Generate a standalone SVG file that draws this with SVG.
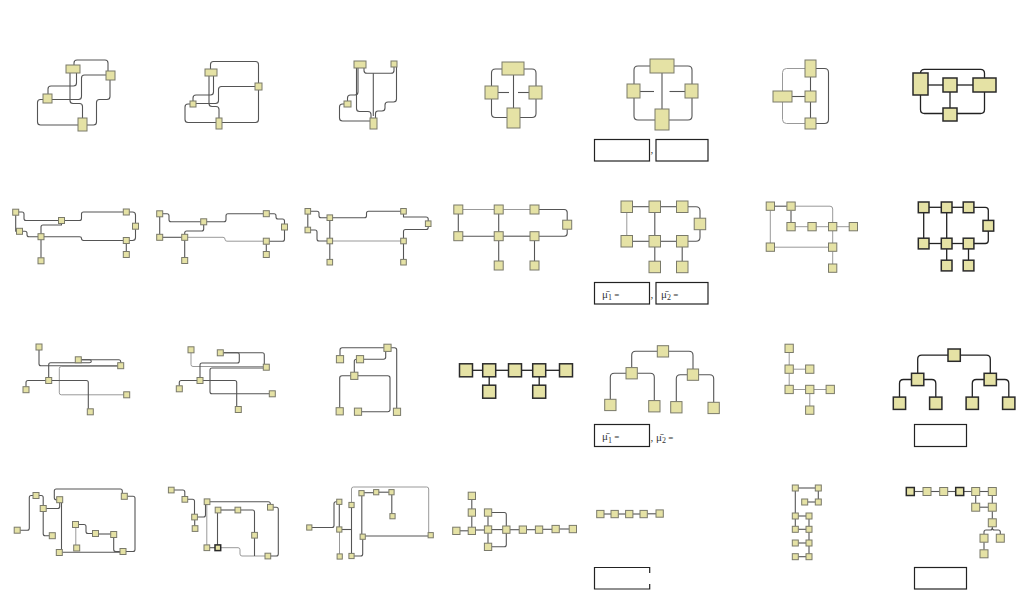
<svg xmlns="http://www.w3.org/2000/svg" width="1018" height="592" viewBox="0 0 1018 592">
<style>
.n{fill:#e5e2a5;stroke:#7a7a6a;stroke-width:1}
.nd{fill:#e5e2a5;stroke:#2a2a2a;stroke-width:1.5}
.e{fill:none;stroke:#555;stroke-width:1.1;stroke-linejoin:round}
.el{fill:none;stroke:#999;stroke-width:1;stroke-linejoin:round}
.ed{fill:none;stroke:#222;stroke-width:1.3;stroke-linejoin:round}
.box{fill:#fff;stroke:#222;stroke-width:1.2}
.lbl{font-family:"Liberation Serif",serif;font-size:11px;fill:#333}
</style>
<rect width="1018" height="592" fill="#fff"/>
<g id="connectors">
<path class="e" d="M74,65 V63 Q74,60 77,60 H105 Q108,60 108,63 V71"/>
<path class="e" d="M110,80 V96.5 Q110,99.5 107,99.5 H99.5 Q96.5,99.5 96.5,102.5 V122 Q96.5,125 93.5,125 H87"/>
<path class="e" d="M76.5,73 V83 Q76.5,86 73.5,86 H51 Q48,86 48,89 V94"/>
<path class="e" d="M70,73 V100.5 Q70,103.5 73,103.5 H79.5 Q82.5,103.5 82.5,106.5 V118"/>
<path class="e" d="M52,99.5 H78.5 Q81.5,99.5 81.5,96.5 V78 Q81.5,75 84.5,75 H106"/>
<path class="e" d="M43,99.5 H40.5 Q37.5,99.5 37.5,102.5 V122 Q37.5,125 40.5,125 H78"/>
<path class="e" d="M210.5,69 V64.5 Q210.5,61.5 213.5,61.5 H255.5 Q258.5,61.5 258.5,64.5 V83"/>
<path class="e" d="M258.5,90 V119.5 Q258.5,122.5 255.5,122.5 H222"/>
<path class="e" d="M213.5,76 V92 Q213.5,95 210.5,95 H196 Q193,95 193,98 V101"/>
<path class="e" d="M209,76 V103.5 Q209,106.5 212,106.5 H216 Q219,106.5 219,109.5 V118"/>
<path class="e" d="M196,103.5 H215.5 Q218.5,103.5 218.5,100.5 V89.5 Q218.5,86.5 221.5,86.5 H255"/>
<path class="e" d="M190,104 H188 Q185,104 185,107 V119.5 Q185,122.5 188,122.5 H216"/>
<path class="e" d="M364,68 V70.5 Q364,73.3 367,73.3 H391 Q394,73.3 394,70.5 V67"/>
<path class="e" d="M373.3,73.3 V116"/>
<path class="e" d="M396.5,67 V99 Q396.5,102 393.5,102 H388 Q385,102 385,105 V108 Q385,111 382,111 H378 Q375.5,111 375.5,113.5 V118"/>
<path class="e" d="M358,68 V92 Q358,95 355,95 H350.5 Q347.5,95 347.5,98 V101"/>
<path class="e" d="M356.5,68 V108.5 Q356.5,111.5 359.5,111.5 H368 Q371,111.5 371,114.5 V118"/>
<path class="e" d="M344,104 H342.5 Q339.5,104 339.5,107 V118 Q339.5,121 342.5,121 H370"/>
<path class="e" d="M502,69 H495.5 Q491.5,69 491.5,73 V86"/>
<path class="e" d="M524,69 H532 Q536,69 536,73 V86"/>
<path class="e" d="M491.5,99 V113.5 Q491.5,117.5 495.5,117.5 H507"/>
<path class="e" d="M536,99 V113.5 Q536,117.5 532,117.5 H520"/>
<path class="e" d="M513.5,75 V108"/>
<path class="e" d="M498,92.5 H509"/>
<path class="e" d="M518,92.5 H529"/>
<path class="e" d="M650,66 H638 Q634,66 634,70 V84"/>
<path class="e" d="M674,66 H688 Q692,66 692,70 V84"/>
<path class="e" d="M634,98 V116 Q634,120 638,120 H655"/>
<path class="e" d="M692,98 V116 Q692,120 688,120 H669"/>
<path class="e" d="M662,73 V109"/>
<path class="e" d="M640,91.5 H654"/>
<path class="e" d="M669.5,91.5 H685"/>
<path class="e" d="M810.5,77 V91"/>
<path class="e" d="M810.5,102 V118"/>
<path class="e" d="M792,96.5 H805"/>
<path class="el" d="M805,68.5 H786.5 Q782.5,68.5 782.5,72.5 V119.5 Q782.5,123.5 786.5,123.5 H805"/>
<path class="e" d="M816,68.5 H824.5 Q828.5,68.5 828.5,72.5 V119.5 Q828.5,123.5 824.5,123.5 H816"/>
<path class="ed" d="M928,85 H943"/>
<path class="ed" d="M957,85 H973"/>
<path class="ed" d="M950,92 V108"/>
<path class="ed" d="M920.5,73.3 Q920.5,69.3 924.5,69.3 H980.5 Q984.5,69.3 984.5,73.3 V78"/>
<path class="ed" d="M920.5,95 V109.5 Q920.5,113.5 924.5,113.5 H943"/>
<path class="ed" d="M984.5,92 V109.5 Q984.5,113.5 980.5,113.5 H957"/>
<path class="e" d="M18.7,212 H22 Q24,212 24,214 V218.5 Q24,220.5 26,220.5 H58.5"/>
<path class="e" d="M64.5,220.5 H79.5 Q81.5,220.5 81.5,218.5 V214 Q81.5,212 83.5,212 H123.3"/>
<path class="e" d="M15.7,215.2 V231.3 H16.5"/>
<path class="e" d="M22.5,231.3 H25 Q27,231.3 27,233.3 V234.7 Q27,236.7 29,236.7 H38"/>
<path class="e" d="M61.5,223.5 V225 H43 Q41,225 41,227 V233.7"/>
<path class="e" d="M44,236.7 H79.5 Q81.5,236.7 81.5,238.6 Q81.5,240.5 83.5,240.5 H123.3"/>
<path class="e" d="M41,239.7 V257.8"/>
<path class="e" d="M129.3,212 H132.5 Q135.5,212 135.5,215 V223.2"/>
<path class="e" d="M135.5,229.2 V237.5 Q135.5,240.5 132.5,240.5 H129.3"/>
<path class="e" d="M126.3,243.5 V251.5"/>
<path class="e" d="M162.7,213.8 H167 Q169,213.8 169,215.8 V219.8 Q169,221.8 171,221.8 H200.7"/>
<path class="e" d="M206.7,221.8 H224 Q226,221.8 226,219.8 V215.7 Q226,213.7 228,213.7 H263.3"/>
<path class="e" d="M159.7,216.8 V234.3"/>
<path class="e" d="M162.7,237.3 H181.7"/>
<path class="e" d="M203.7,224.8 V229 Q203.7,231 201.7,231 H186.7 Q184.7,231 184.7,233 V234.3"/>
<path class="el" d="M187.7,237.3 H223 Q225,237.3 225,239.2 Q225,241.2 227,241.2 H263.3"/>
<path class="e" d="M184.7,240.3 V257.5"/>
<path class="e" d="M269.3,213.7 H274 Q276,213.7 276,215.7 V217 Q276,219 278,219 H282.5 Q284.5,219 284.5,221 V224"/>
<path class="e" d="M284.5,230 V239.2 Q284.5,241.2 282.5,241.2 H269.3"/>
<path class="e" d="M266.3,244.2 V251.5"/>
<path class="e" d="M310.6,211.3 H317 Q319,211.3 319,213.3 V215.7 Q319,217.7 321,217.7 H327"/>
<path class="e" d="M332.6,217.7 H364.5 Q366.5,217.7 366.5,215.7 V213.3 Q366.5,211.3 368.5,211.3 H400.7"/>
<path class="e" d="M307.8,214.1 V227.2"/>
<path class="e" d="M310.6,230 H315 Q317,230 317,232 V239 Q317,241 319,241 H327"/>
<path class="e" d="M329.8,220.5 V238.2"/>
<path class="el" d="M332.6,241 H400.7"/>
<path class="e" d="M329.8,243.8 V259.4"/>
<path class="e" d="M403.5,214.1 V217 H426 Q428.2,217 428.2,219 V220.9"/>
<path class="e" d="M428.2,226.5 V227.5 Q428.2,229.5 426.2,229.5 H405.5 Q403.5,229.5 403.5,231.5 V238.2"/>
<path class="e" d="M403.5,243.8 V259.4"/>
<path class="el" d="M462.8,209.5 H494.2"/>
<path class="el" d="M503.2,209.5 H530"/>
<path class="e" d="M539,209.5 H564.2 Q567.2,209.5 567.2,212.5 V220.2"/>
<path class="e" d="M567.2,229.2 V233.2 Q567.2,236.2 564.2,236.2 H539"/>
<path class="e" d="M458.3,214 V231.7"/>
<path class="e" d="M498.7,214 V231.7"/>
<path class="e" d="M462.8,236.2 H494.2"/>
<path class="e" d="M503.2,236.2 H530"/>
<path class="e" d="M498.7,240.7 V261"/>
<path class="e" d="M534.5,240.7 V261"/>
<path class="e" d="M632.5,206.7 H649"/>
<path class="e" d="M660.5,206.7 H676.5"/>
<path class="e" d="M688,206.7 H696 Q700,206.7 700,210.7 V218.2"/>
<path class="e" d="M700,229.7 V237.3 Q700,241.3 696,241.3 H688"/>
<path class="el" d="M626.8,212.5 V235.5"/>
<path class="e" d="M654.8,212.5 V235.5"/>
<path class="e" d="M632.5,241.3 H649"/>
<path class="e" d="M660.5,241.3 H676.5"/>
<path class="e" d="M654.8,247 V261.2"/>
<path class="e" d="M682.2,247 V261.2"/>
<path class="e" d="M774.5,206.2 H786.8"/>
<path class="el" d="M795.2,206.2 H830 Q832.7,206.2 832.7,209 V222.5"/>
<path class="e" d="M791,210.4 V222.5"/>
<path class="el" d="M795.2,226.7 H807.8"/>
<path class="el" d="M816.2,226.7 H828.5"/>
<path class="el" d="M836.9,226.7 H849.1"/>
<path class="el" d="M770.3,210.4 V243"/>
<path class="el" d="M774.5,247.2 H828.5"/>
<path class="el" d="M832.7,231 V243"/>
<path class="el" d="M832.7,251.4 V264"/>
<path class="ed" d="M929,207.3 H941.3"/>
<path class="ed" d="M952,207.3 H963.2"/>
<path class="ed" d="M973.9,207.3 H985.3 Q988.3,207.3 988.3,210.3 V220.4"/>
<path class="ed" d="M988.3,231 V240.5 Q988.3,243.5 985.3,243.5 H973.9"/>
<path class="ed" d="M923.7,212.7 V238.2"/>
<path class="ed" d="M946.7,212.7 V238.2"/>
<path class="ed" d="M929,243.5 H941.3"/>
<path class="ed" d="M952,243.5 H963.2"/>
<path class="ed" d="M946.7,248.9 V260.2"/>
<path class="ed" d="M968.5,248.9 V260.2"/>
<path class="e" d="M39,350 V363.7 Q39,365.7 41,365.7 H117.7"/>
<path class="e" d="M81.3,359.8 H118.7 Q120.7,359.8 120.7,361.8 V362.7"/>
<path class="e" d="M81.3,359.8 H89.5 Q91.3,359.8 91.3,361.3 Q91.3,362.7 89.5,362.7 H50.7 Q48.7,362.7 48.7,364.7 V377.5"/>
<path class="el" d="M117.7,366.5 H61.3 Q59.3,366.5 59.3,368.5 V392.8 Q59.3,394.8 61.3,394.8 H123.7"/>
<path class="e" d="M51.7,380.5 H86.3 Q88.3,380.5 88.3,382.5 V408.8"/>
<path class="e" d="M45.7,380.5 H28 Q26,380.5 26,382.5 V386.7"/>
<path class="el" d="M191,352.8 V364.5 Q191,366.5 193,366.5 H263.3"/>
<path class="e" d="M223.3,352.8 H262.3 Q264.3,352.8 264.3,354.8 V364.2"/>
<path class="e" d="M223.3,352.8 H237.3 Q239.3,352.8 239.3,354.8 V361 Q239.3,363 237.3,363 H202 Q200,363 200,365 V377.5"/>
<path class="e" d="M263.3,368 H212 Q210,368 210,370 V391.8 Q210,393.8 212,393.8 H269.3"/>
<path class="e" d="M203,380.5 H234.7 Q236.7,380.5 236.7,382.5 V406.5"/>
<path class="e" d="M197,380.5 H181.3 Q179.3,380.5 179.3,382.5 V385.8"/>
<path class="e" d="M340,355.6 V350 Q340,347.8 342.2,347.8 H383.9"/>
<path class="e" d="M391.1,347.8 H394.5 Q396.7,347.8 396.7,350 V408.2"/>
<path class="e" d="M363.6,359.2 H383.5 Q385.7,359.2 385.7,357 V351.4"/>
<path class="e" d="M354.3,372.2 V361.2 Q354.3,359.2 356.4,359.2"/>
<path class="e" d="M350.7,375.8 H342 Q339.7,375.8 339.7,378 V407.7"/>
<path class="e" d="M357.9,375.8 H387.8 Q390,375.8 390,378 V409.5 Q390,411.7 387.8,411.7 H361.6"/>
<path class="ed" d="M472.5,370.3 H482.7"/>
<path class="ed" d="M495.7,370.3 H508.5"/>
<path class="ed" d="M521.5,370.3 H532.7"/>
<path class="ed" d="M545.7,370.3 H559.5"/>
<path class="ed" d="M489.2,376.8 V385.2"/>
<path class="ed" d="M539.2,376.8 V385.2"/>
<path class="e" d="M657.3,351.3 H635.7 Q631.7,351.3 631.7,355.3 V367.6"/>
<path class="e" d="M668.7,351.3 H689 Q693,351.3 693,355.3 V369"/>
<path class="e" d="M626,373.3 H614.3 Q610.3,373.3 610.3,377.3 V399.3"/>
<path class="e" d="M637.3,373.3 H650.3 Q654.3,373.3 654.3,377.3 V400.6"/>
<path class="e" d="M687.3,374.7 H680.3 Q676.3,374.7 676.3,378.7 V401.6"/>
<path class="e" d="M698.7,374.7 H709.7 Q713.7,374.7 713.7,378.7 V402.3"/>
<path class="el" d="M789.2,352.5 V365"/>
<path class="el" d="M793.4,369.2 H805.6"/>
<path class="el" d="M789.2,373.4 V385.3"/>
<path class="el" d="M793.4,389.5 H805.6"/>
<path class="el" d="M814,389.5 H826.1"/>
<path class="el" d="M809.8,393.7 V406"/>
<path class="ed" d="M948,355.2 H921.7 Q917.7,355.2 917.7,359.2 V373.3"/>
<path class="ed" d="M960.4,355.2 H986.3 Q990.3,355.2 990.3,359.2 V373.3"/>
<path class="ed" d="M911.5,379.5 H903.5 Q899.5,379.5 899.5,383.5 V397.1"/>
<path class="ed" d="M923.9,379.5 H931.8 Q935.8,379.5 935.8,383.5 V397.1"/>
<path class="ed" d="M984.1,379.5 H976.3 Q972.3,379.5 972.3,383.5 V397.1"/>
<path class="ed" d="M996.5,379.5 H1004.8 Q1008.8,379.5 1008.8,383.5 V397.1"/>
<path class="e" d="M20.2,530.2 H27.3 Q29.3,530.2 29.3,528.2 V497.5 Q29.3,495.5 31.3,495.5 H33"/>
<path class="e" d="M39,495.5 H41.2 Q43.2,495.5 43.2,497.5 V505.5"/>
<path class="e" d="M46.2,508.5 H57.7 Q59.7,508.5 59.7,506.5 V502.7"/>
<path class="e" d="M43.2,511.5 V533.7 Q43.2,535.7 45.2,535.7 H49.3"/>
<path class="e" d="M56.7,499.7 H56.3 Q54.3,499.7 54.3,497.7 V491 Q54.3,489 56.3,489 H120.3 Q122.3,489 122.3,491 V493.3"/>
<path class="e" d="M61.5,502.7 V549.5"/>
<path class="e" d="M62.3,552.3 H120"/>
<path class="e" d="M127.3,496.3 H133 Q135,496.3 135,498.3 V549.5 Q135,551.5 133,551.5 H126"/>
<path class="e" d="M78.5,524.5 H84 Q86,524.5 86,526.5 V531.5 Q86,533.5 88,533.5 H92.5"/>
<path class="e" d="M98.5,534 H110.7"/>
<path class="e" d="M113.7,537.5 V549.5 Q113.7,551.5 115.7,551.5 H120"/>
<path class="el" d="M75.8,527.5 V545"/>
<path class="e" d="M174,490 H182.8 Q184.8,490 184.8,492 V496.5"/>
<path class="e" d="M187.7,499.3 H192.5 Q194.5,499.3 194.5,501.3 V514.2"/>
<path class="e" d="M194.7,519.8 V525.7"/>
<path class="e" d="M197.3,517 H203.5 Q205.5,517 205.5,515 V504.5"/>
<path class="e" d="M209.8,501.7 H268.3 Q270.3,501.7 270.3,503.7 V504.4"/>
<path class="el" d="M206.8,504.5 V544.9"/>
<path class="e" d="M220.8,510 H235"/>
<path class="e" d="M217.5,512.8 V544.9"/>
<path class="e" d="M240.6,510 H252.5 Q254.5,510 254.5,512 V532.4"/>
<path class="e" d="M273.1,507.2 H276.3 Q278.3,507.2 278.3,509.2 V554 Q278.3,556 276.3,556 H270.6"/>
<path class="e" d="M209.6,547.7 H215"/>
<path class="el" d="M220.6,547.7 H238 Q240,547.7 240,549.7 V554 Q240,556 242,556 H265"/>
<path class="e" d="M254.5,538 V556"/>
<path class="e" d="M311.9,527.5 H332 Q334,527.5 334,525.5 V503.8 Q334,501.8 336,501.8 H336.7"/>
<path class="e" d="M339.3,504.4 V526.9"/>
<path class="el" d="M339.5,532.1 V553.9"/>
<path class="e" d="M341.9,529.5 H351.5"/>
<path class="e" d="M351.5,507.6 V553.4"/>
<path class="el" d="M351.5,502.4 V489 Q351.5,487 353.5,487 H426.7 Q428.7,487 428.7,489 V532.6"/>
<path class="e" d="M364.1,492.7 H373.6"/>
<path class="e" d="M378.8,492.2 H388.9"/>
<path class="e" d="M391.8,494.8 V513.6"/>
<path class="e" d="M361.8,495.8 V534.1"/>
<path class="e" d="M365.3,536 H428.1"/>
<path class="e" d="M362.7,539.3 V554 Q362.7,556 360.7,556 H354.1"/>
<path class="e" d="M471.8,499.5 V508.9"/>
<path class="e" d="M471.8,516.2 V527.2"/>
<path class="e" d="M460,530.8 H468.2"/>
<path class="e" d="M475.5,530 H484.4"/>
<path class="e" d="M488,516.2 V525.9"/>
<path class="e" d="M488,533.2 V543.2"/>
<path class="e" d="M491.7,512.5 H504.3 Q506.3,512.5 506.3,514.5 V544.8 Q506.3,546.8 504.3,546.8 H491.7"/>
<path class="e" d="M491.7,529.6 H502.7"/>
<path class="e" d="M510,529.7 H519.2"/>
<path class="e" d="M526.5,529.7 H535.4"/>
<path class="e" d="M542.7,529.3 H552"/>
<path class="e" d="M559.3,529 H569.2"/>
<path class="e" d="M604,514 H611"/>
<path class="e" d="M618.3,514 H625.6"/>
<path class="e" d="M632.9,514 H640"/>
<path class="e" d="M647.3,513.8 H656"/>
<path class="e" d="M798.3,488 H815.3"/>
<path class="e" d="M818.3,491 V499"/>
<path class="e" d="M807.7,502 H815.3"/>
<path class="e" d="M795.3,491 V513"/>
<path class="e" d="M798.3,516 H806"/>
<path class="e" d="M795.3,519 V526.3"/>
<path class="e" d="M809,519 V526.3"/>
<path class="e" d="M798.3,529.3 H806"/>
<path class="e" d="M809,532.3 V540"/>
<path class="e" d="M798.3,543 H806"/>
<path class="e" d="M809,546 V553.7"/>
<path class="e" d="M798.3,556.7 H806"/>
<path class="e" d="M914.3,491.5 H923"/>
<path class="e" d="M931,491.5 H939.7"/>
<path class="e" d="M947.7,491.5 H955.7"/>
<path class="e" d="M963.7,491.5 H971.7"/>
<path class="e" d="M979.7,491.5 H988.3"/>
<path class="e" d="M975.7,495.5 V503.2"/>
<path class="e" d="M992.3,495.5 V503.2"/>
<path class="e" d="M979.7,507.2 H988.3"/>
<path class="e" d="M992.3,511.2 V518.8"/>
<path class="e" d="M992.3,526.8 V528 Q992.3,530 990.3,530 H986 Q984,530 984,532 V534.2"/>
<path class="e" d="M992.3,528 Q992.3,530 994.3,530 H998.3 Q1000.3,530 1000.3,532 V534.2"/>
<path class="e" d="M984,542.2 V549.8"/>
</g>
<g id="nodes">
<g id="r1c1-a"><rect class="n" x="66" y="65" width="14" height="8"/></g>
<g id="r1c1-b"><rect class="n" x="106" y="71" width="9" height="9"/></g>
<g id="r1c1-c"><rect class="n" x="43" y="94" width="9" height="9"/></g>
<g id="r1c1-d"><rect class="n" x="78" y="118" width="9" height="13"/></g>
<g id="r1c2-a"><rect class="n" x="205" y="69" width="12" height="7"/></g>
<g id="r1c2-b"><rect class="n" x="255" y="83" width="7" height="7"/></g>
<g id="r1c2-c"><rect class="n" x="190" y="101" width="6" height="6"/></g>
<g id="r1c2-d"><rect class="n" x="216" y="118" width="6" height="11"/></g>
<g id="r1c3-a"><rect class="n" x="354" y="61" width="12" height="7"/></g>
<g id="r1c3-b"><rect class="n" x="391" y="61" width="6" height="6"/></g>
<g id="r1c3-c"><rect class="n" x="344" y="101" width="7" height="6"/></g>
<g id="r1c3-d"><rect class="n" x="370" y="118" width="7" height="11"/></g>
<g id="r1c4-top"><rect class="n" x="502" y="62" width="22" height="13"/></g>
<g id="r1c4-left"><rect class="n" x="485" y="86" width="13" height="13"/></g>
<g id="r1c4-right"><rect class="n" x="529" y="86" width="13" height="13"/></g>
<g id="r1c4-bottom"><rect class="n" x="507" y="108" width="13" height="20"/></g>
<g id="r1c5-top"><rect class="n" x="650" y="59" width="24" height="14"/></g>
<g id="r1c5-left"><rect class="n" x="627" y="84" width="13" height="14"/></g>
<g id="r1c5-right"><rect class="n" x="685" y="84" width="13" height="14"/></g>
<g id="r1c5-bottom"><rect class="n" x="655" y="109" width="14" height="21"/></g>
<g id="r1c6-top"><rect class="n" x="805" y="60" width="11" height="17"/></g>
<g id="r1c6-left"><rect class="n" x="773" y="91" width="19" height="11"/></g>
<g id="r1c6-mid"><rect class="n" x="805" y="91" width="11" height="11"/></g>
<g id="r1c6-bottom"><rect class="n" x="805" y="118" width="11" height="11"/></g>
<g id="r1c7-left"><rect class="nd" x="913" y="73" width="15" height="22"/></g>
<g id="r1c7-mid"><rect class="nd" x="943" y="78" width="14" height="14"/></g>
<g id="r1c7-right"><rect class="nd" x="973" y="78" width="23" height="14"/></g>
<g id="r1c7-bottom"><rect class="nd" x="943" y="108" width="14" height="13"/></g>
<g id="r2c1-1"><rect class="n" x="12.7" y="209.2" width="6" height="6"/></g>
<g id="r2c1-2"><rect class="n" x="16.5" y="228.3" width="6" height="6"/></g>
<g id="r2c1-3"><rect class="n" x="58.5" y="217.5" width="6" height="6"/></g>
<g id="r2c1-4"><rect class="n" x="38" y="233.7" width="6" height="6"/></g>
<g id="r2c1-5"><rect class="n" x="123.3" y="209" width="6" height="6"/></g>
<g id="r2c1-6"><rect class="n" x="132.5" y="223.2" width="6" height="6"/></g>
<g id="r2c1-7"><rect class="n" x="123.3" y="237.5" width="6" height="6"/></g>
<g id="r2c1-8"><rect class="n" x="123.3" y="251.5" width="6" height="6"/></g>
<g id="r2c1-9"><rect class="n" x="38" y="257.8" width="6" height="6"/></g>
<g id="r2c2-1"><rect class="n" x="156.7" y="210.8" width="6" height="6"/></g>
<g id="r2c2-2"><rect class="n" x="156.7" y="234.3" width="6" height="6"/></g>
<g id="r2c2-3"><rect class="n" x="200.7" y="218.8" width="6" height="6"/></g>
<g id="r2c2-4"><rect class="n" x="181.7" y="234.3" width="6" height="6"/></g>
<g id="r2c2-5"><rect class="n" x="263.3" y="210.7" width="6" height="6"/></g>
<g id="r2c2-6"><rect class="n" x="281.5" y="224" width="6" height="6"/></g>
<g id="r2c2-7"><rect class="n" x="263.3" y="238.2" width="6" height="6"/></g>
<g id="r2c2-8"><rect class="n" x="263.3" y="251.5" width="6" height="6"/></g>
<g id="r2c2-9"><rect class="n" x="181.7" y="257.5" width="6" height="6"/></g>
<g id="r2c3-1"><rect class="n" x="305" y="208.5" width="5.6" height="5.6"/></g>
<g id="r2c3-2"><rect class="n" x="305" y="227.2" width="5.6" height="5.6"/></g>
<g id="r2c3-3"><rect class="n" x="327" y="214.9" width="5.6" height="5.6"/></g>
<g id="r2c3-4"><rect class="n" x="327" y="238.2" width="5.6" height="5.6"/></g>
<g id="r2c3-5"><rect class="n" x="400.7" y="208.5" width="5.6" height="5.6"/></g>
<g id="r2c3-6"><rect class="n" x="425.4" y="220.9" width="5.6" height="5.6"/></g>
<g id="r2c3-7"><rect class="n" x="400.7" y="238.2" width="5.6" height="5.6"/></g>
<g id="r2c3-8"><rect class="n" x="400.7" y="259.4" width="5.6" height="5.6"/></g>
<g id="r2c3-9"><rect class="n" x="327" y="259.4" width="5.6" height="5.6"/></g>
<g id="r2c4-1"><rect class="n" x="453.8" y="205" width="9" height="9"/></g>
<g id="r2c4-2"><rect class="n" x="494.2" y="205" width="9" height="9"/></g>
<g id="r2c4-3"><rect class="n" x="530" y="205" width="9" height="9"/></g>
<g id="r2c4-4"><rect class="n" x="562.7" y="220.2" width="9" height="9"/></g>
<g id="r2c4-5"><rect class="n" x="453.8" y="231.7" width="9" height="9"/></g>
<g id="r2c4-6"><rect class="n" x="494.2" y="231.7" width="9" height="9"/></g>
<g id="r2c4-7"><rect class="n" x="530" y="231.7" width="9" height="9"/></g>
<g id="r2c4-8"><rect class="n" x="494.2" y="261" width="9" height="9"/></g>
<g id="r2c4-9"><rect class="n" x="530" y="261" width="9" height="9"/></g>
<g id="r2c5-1"><rect class="n" x="621" y="201" width="11.5" height="11.5"/></g>
<g id="r2c5-2"><rect class="n" x="649" y="201" width="11.5" height="11.5"/></g>
<g id="r2c5-3"><rect class="n" x="676.5" y="201" width="11.5" height="11.5"/></g>
<g id="r2c5-4"><rect class="n" x="694.2" y="218.2" width="11.5" height="11.5"/></g>
<g id="r2c5-5"><rect class="n" x="621" y="235.5" width="11.5" height="11.5"/></g>
<g id="r2c5-6"><rect class="n" x="649" y="235.5" width="11.5" height="11.5"/></g>
<g id="r2c5-7"><rect class="n" x="676.5" y="235.5" width="11.5" height="11.5"/></g>
<g id="r2c5-8"><rect class="n" x="649" y="261.2" width="11.5" height="11.5"/></g>
<g id="r2c5-9"><rect class="n" x="676.5" y="261.2" width="11.5" height="11.5"/></g>
<g id="r2c6-1"><rect class="n" x="766.2" y="202" width="8.3" height="8.3"/></g>
<g id="r2c6-2"><rect class="n" x="786.9" y="202" width="8.3" height="8.3"/></g>
<g id="r2c6-3"><rect class="n" x="786.9" y="222.5" width="8.3" height="8.3"/></g>
<g id="r2c6-4"><rect class="n" x="807.9" y="222.5" width="8.3" height="8.3"/></g>
<g id="r2c6-5"><rect class="n" x="828.5" y="222.5" width="8.3" height="8.3"/></g>
<g id="r2c6-6"><rect class="n" x="849.2" y="222.5" width="8.3" height="8.3"/></g>
<g id="r2c6-7"><rect class="n" x="766.2" y="243" width="8.3" height="8.3"/></g>
<g id="r2c6-8"><rect class="n" x="828.5" y="243" width="8.3" height="8.3"/></g>
<g id="r2c6-9"><rect class="n" x="828.5" y="264" width="8.3" height="8.3"/></g>
<g id="r2c7-1"><rect class="nd" x="918.3" y="202" width="10.7" height="10.7"/></g>
<g id="r2c7-2"><rect class="nd" x="941.3" y="202" width="10.7" height="10.7"/></g>
<g id="r2c7-3"><rect class="nd" x="963.2" y="202" width="10.7" height="10.7"/></g>
<g id="r2c7-4"><rect class="nd" x="983" y="220.4" width="10.7" height="10.7"/></g>
<g id="r2c7-5"><rect class="nd" x="918.3" y="238.2" width="10.7" height="10.7"/></g>
<g id="r2c7-6"><rect class="nd" x="941.3" y="238.2" width="10.7" height="10.7"/></g>
<g id="r2c7-7"><rect class="nd" x="963.2" y="238.2" width="10.7" height="10.7"/></g>
<g id="r2c7-8"><rect class="nd" x="941.3" y="260.2" width="10.7" height="10.7"/></g>
<g id="r2c7-9"><rect class="nd" x="963.2" y="260.2" width="10.7" height="10.7"/></g>
<g id="r3c1-1"><rect class="n" x="36" y="344" width="6" height="6"/></g>
<g id="r3c1-2"><rect class="n" x="75.3" y="356.8" width="6" height="6"/></g>
<g id="r3c1-3"><rect class="n" x="117.7" y="362.7" width="6" height="6"/></g>
<g id="r3c1-4"><rect class="n" x="45.7" y="377.5" width="6" height="6"/></g>
<g id="r3c1-5"><rect class="n" x="23" y="386.7" width="6" height="6"/></g>
<g id="r3c1-6"><rect class="n" x="123.7" y="391.8" width="6" height="6"/></g>
<g id="r3c1-7"><rect class="n" x="87.3" y="408.8" width="6" height="6"/></g>
<g id="r3c2-1"><rect class="n" x="188" y="346.8" width="6" height="6"/></g>
<g id="r3c2-2"><rect class="n" x="217.3" y="349.8" width="6" height="6"/></g>
<g id="r3c2-3"><rect class="n" x="263.3" y="364.2" width="6" height="6"/></g>
<g id="r3c2-4"><rect class="n" x="197" y="377.5" width="6" height="6"/></g>
<g id="r3c2-5"><rect class="n" x="176.3" y="385.8" width="6" height="6"/></g>
<g id="r3c2-6"><rect class="n" x="269.3" y="390.8" width="6" height="6"/></g>
<g id="r3c2-7"><rect class="n" x="235.3" y="406.5" width="6" height="6"/></g>
<g id="r3c3-1"><rect class="n" x="336.4" y="355.6" width="7.2" height="7.2"/></g>
<g id="r3c3-2"><rect class="n" x="356.4" y="355.6" width="7.2" height="7.2"/></g>
<g id="r3c3-3"><rect class="n" x="383.9" y="344.2" width="7.2" height="7.2"/></g>
<g id="r3c3-4"><rect class="n" x="350.7" y="372.2" width="7.2" height="7.2"/></g>
<g id="r3c3-5"><rect class="n" x="336.1" y="407.7" width="7.2" height="7.2"/></g>
<g id="r3c3-6"><rect class="n" x="354.4" y="408.1" width="7.2" height="7.2"/></g>
<g id="r3c3-7"><rect class="n" x="393.4" y="408.2" width="7.2" height="7.2"/></g>
<g id="r3c4-1"><rect class="nd" x="459.5" y="363.8" width="13" height="13"/></g>
<g id="r3c4-2"><rect class="nd" x="482.7" y="363.8" width="13" height="13"/></g>
<g id="r3c4-3"><rect class="nd" x="508.5" y="363.8" width="13" height="13"/></g>
<g id="r3c4-4"><rect class="nd" x="532.7" y="363.8" width="13" height="13"/></g>
<g id="r3c4-5"><rect class="nd" x="559.5" y="363.8" width="13" height="13"/></g>
<g id="r3c4-6"><rect class="nd" x="482.7" y="385.2" width="13" height="13"/></g>
<g id="r3c4-7"><rect class="nd" x="532.7" y="385.2" width="13" height="13"/></g>
<g id="r3c5-1"><rect class="n" x="657.3" y="345.7" width="11.3" height="11.3"/></g>
<g id="r3c5-2"><rect class="n" x="626" y="367.6" width="11.3" height="11.3"/></g>
<g id="r3c5-3"><rect class="n" x="687.3" y="369" width="11.3" height="11.3"/></g>
<g id="r3c5-4"><rect class="n" x="604.7" y="399.3" width="11.3" height="11.3"/></g>
<g id="r3c5-5"><rect class="n" x="648.7" y="400.6" width="11.3" height="11.3"/></g>
<g id="r3c5-6"><rect class="n" x="670.7" y="401.6" width="11.3" height="11.3"/></g>
<g id="r3c5-7"><rect class="n" x="708" y="402.3" width="11.3" height="11.3"/></g>
<g id="r3c6-1"><rect class="n" x="785" y="344.2" width="8.3" height="8.3"/></g>
<g id="r3c6-2"><rect class="n" x="785" y="365" width="8.3" height="8.3"/></g>
<g id="r3c6-3"><rect class="n" x="805.6" y="365" width="8.3" height="8.3"/></g>
<g id="r3c6-4"><rect class="n" x="785" y="385.3" width="8.3" height="8.3"/></g>
<g id="r3c6-5"><rect class="n" x="805.6" y="385.3" width="8.3" height="8.3"/></g>
<g id="r3c6-6"><rect class="n" x="826.1" y="385.3" width="8.3" height="8.3"/></g>
<g id="r3c6-7"><rect class="n" x="805.6" y="406" width="8.3" height="8.3"/></g>
<g id="r3c7-1"><rect class="nd" x="948" y="349" width="12.3" height="12.3"/></g>
<g id="r3c7-2"><rect class="nd" x="911.5" y="373.3" width="12.3" height="12.3"/></g>
<g id="r3c7-3"><rect class="nd" x="984.1" y="373.3" width="12.3" height="12.3"/></g>
<g id="r3c7-4"><rect class="nd" x="893.3" y="397.1" width="12.3" height="12.3"/></g>
<g id="r3c7-5"><rect class="nd" x="929.6" y="397.1" width="12.3" height="12.3"/></g>
<g id="r3c7-6"><rect class="nd" x="966.1" y="397.1" width="12.3" height="12.3"/></g>
<g id="r3c7-7"><rect class="nd" x="1002.6" y="397.1" width="12.3" height="12.3"/></g>
<g id="r4c1-1"><rect class="n" x="14.2" y="527.2" width="6" height="6"/></g>
<g id="r4c1-2"><rect class="n" x="33" y="492.5" width="6" height="6"/></g>
<g id="r4c1-3"><rect class="n" x="40.2" y="505.5" width="6" height="6"/></g>
<g id="r4c1-4"><rect class="n" x="56.7" y="496.7" width="6" height="6"/></g>
<g id="r4c1-5"><rect class="n" x="49.3" y="532.7" width="6" height="6"/></g>
<g id="r4c1-6"><rect class="n" x="121.3" y="493.3" width="6" height="6"/></g>
<g id="r4c1-7"><rect class="n" x="72.5" y="521.5" width="6" height="6"/></g>
<g id="r4c1-8"><rect class="n" x="92.5" y="530.5" width="6" height="6"/></g>
<g id="r4c1-9"><rect class="n" x="110.7" y="531.5" width="6" height="6"/></g>
<g id="r4c1-10"><rect class="n" x="73.7" y="545" width="6" height="6"/></g>
<g id="r4c1-11"><rect class="n" x="56.3" y="549.5" width="6" height="6"/></g>
<g id="r4c1-12"><rect class="n" x="120" y="548.5" width="6" height="6"/></g>
<g id="r4c2-1"><rect class="n" x="168.4" y="487.2" width="5.7" height="5.7"/></g>
<g id="r4c2-2"><rect class="n" x="182" y="496.5" width="5.7" height="5.7"/></g>
<g id="r4c2-3"><rect class="n" x="191.7" y="514.2" width="5.7" height="5.7"/></g>
<g id="r4c2-4"><rect class="n" x="192.2" y="525.7" width="5.7" height="5.7"/></g>
<g id="r4c2-5"><rect class="n" x="204.2" y="498.9" width="5.7" height="5.7"/></g>
<g id="r4c2-6"><rect class="n" x="267.5" y="504.4" width="5.7" height="5.7"/></g>
<g id="r4c2-7"><rect class="n" x="215.2" y="507.2" width="5.7" height="5.7"/></g>
<g id="r4c2-8"><rect class="n" x="235" y="507.2" width="5.7" height="5.7"/></g>
<g id="r4c2-9"><rect class="n" x="251.7" y="532.4" width="5.7" height="5.7"/></g>
<g id="r4c2-10"><rect class="n" x="204" y="544.9" width="5.7" height="5.7"/></g>
<g id="r4c2-11"><rect class="nd" x="215" y="544.9" width="5.7" height="5.7"/></g>
<g id="r4c2-12"><rect class="n" x="265" y="553.2" width="5.7" height="5.7"/></g>
<g id="r4c3-1"><rect class="n" x="306.7" y="524.9" width="5.2" height="5.2"/></g>
<g id="r4c3-2"><rect class="n" x="336.7" y="499.2" width="5.2" height="5.2"/></g>
<g id="r4c3-3"><rect class="n" x="336.7" y="526.9" width="5.2" height="5.2"/></g>
<g id="r4c3-4"><rect class="n" x="337.1" y="553.9" width="5.2" height="5.2"/></g>
<g id="r4c3-5"><rect class="n" x="348.9" y="502.4" width="5.2" height="5.2"/></g>
<g id="r4c3-6"><rect class="n" x="358.9" y="490.6" width="5.2" height="5.2"/></g>
<g id="r4c3-7"><rect class="n" x="373.6" y="489.6" width="5.2" height="5.2"/></g>
<g id="r4c3-8"><rect class="n" x="388.9" y="489.6" width="5.2" height="5.2"/></g>
<g id="r4c3-9"><rect class="n" x="389.9" y="513.6" width="5.2" height="5.2"/></g>
<g id="r4c3-10"><rect class="n" x="360.1" y="534.1" width="5.2" height="5.2"/></g>
<g id="r4c3-11"><rect class="n" x="428.1" y="532.6" width="5.2" height="5.2"/></g>
<g id="r4c3-12"><rect class="n" x="348.9" y="553.4" width="5.2" height="5.2"/></g>
<g id="r4c4-1"><rect class="n" x="468.2" y="492.2" width="7.3" height="7.3"/></g>
<g id="r4c4-2"><rect class="n" x="468.2" y="508.9" width="7.3" height="7.3"/></g>
<g id="r4c4-3"><rect class="n" x="452.7" y="527.2" width="7.3" height="7.3"/></g>
<g id="r4c4-4"><rect class="n" x="468.2" y="527.2" width="7.3" height="7.3"/></g>
<g id="r4c4-5"><rect class="n" x="484.4" y="508.9" width="7.3" height="7.3"/></g>
<g id="r4c4-6"><rect class="n" x="484.4" y="525.9" width="7.3" height="7.3"/></g>
<g id="r4c4-7"><rect class="n" x="484.4" y="543.2" width="7.3" height="7.3"/></g>
<g id="r4c4-8"><rect class="n" x="502.7" y="526" width="7.3" height="7.3"/></g>
<g id="r4c4-9"><rect class="n" x="519.2" y="526" width="7.3" height="7.3"/></g>
<g id="r4c4-10"><rect class="n" x="535.4" y="526" width="7.3" height="7.3"/></g>
<g id="r4c4-11"><rect class="n" x="552" y="525.4" width="7.3" height="7.3"/></g>
<g id="r4c4-12"><rect class="n" x="569.2" y="525.4" width="7.3" height="7.3"/></g>
<g id="r4c5-1"><rect class="n" x="596.7" y="510.4" width="7.3" height="7.3"/></g>
<g id="r4c5-2"><rect class="n" x="611" y="510.4" width="7.3" height="7.3"/></g>
<g id="r4c5-3"><rect class="n" x="625.6" y="510.4" width="7.3" height="7.3"/></g>
<g id="r4c5-4"><rect class="n" x="640" y="510.4" width="7.3" height="7.3"/></g>
<g id="r4c5-5"><rect class="n" x="656" y="509.9" width="7.3" height="7.3"/></g>
<g id="r4c6-1"><rect class="n" x="792.3" y="485" width="6" height="6"/></g>
<g id="r4c6-2"><rect class="n" x="815.3" y="485" width="6" height="6"/></g>
<g id="r4c6-3"><rect class="n" x="801.7" y="499" width="6" height="6"/></g>
<g id="r4c6-4"><rect class="n" x="815.3" y="499" width="6" height="6"/></g>
<g id="r4c6-5"><rect class="n" x="792.3" y="513" width="6" height="6"/></g>
<g id="r4c6-6"><rect class="n" x="806" y="513" width="6" height="6"/></g>
<g id="r4c6-7"><rect class="n" x="792.3" y="526.3" width="6" height="6"/></g>
<g id="r4c6-8"><rect class="n" x="806" y="526.3" width="6" height="6"/></g>
<g id="r4c6-9"><rect class="n" x="792.3" y="540" width="6" height="6"/></g>
<g id="r4c6-10"><rect class="n" x="806" y="540" width="6" height="6"/></g>
<g id="r4c6-11"><rect class="n" x="792.3" y="553.7" width="6" height="6"/></g>
<g id="r4c6-12"><rect class="n" x="806" y="553.7" width="6" height="6"/></g>
<g id="r4c7-1"><rect class="nd" x="906.3" y="487.5" width="8" height="8"/></g>
<g id="r4c7-2"><rect class="n" x="923" y="487.5" width="8" height="8"/></g>
<g id="r4c7-3"><rect class="n" x="939.7" y="487.5" width="8" height="8"/></g>
<g id="r4c7-4"><rect class="nd" x="955.7" y="487.5" width="8" height="8"/></g>
<g id="r4c7-5"><rect class="n" x="971.7" y="487.5" width="8" height="8"/></g>
<g id="r4c7-6"><rect class="n" x="988.3" y="487.5" width="8" height="8"/></g>
<g id="r4c7-7"><rect class="n" x="971.7" y="503.2" width="8" height="8"/></g>
<g id="r4c7-8"><rect class="n" x="988.3" y="503.2" width="8" height="8"/></g>
<g id="r4c7-9"><rect class="n" x="988.3" y="518.8" width="8" height="8"/></g>
<g id="r4c7-10"><rect class="n" x="980" y="534.2" width="8" height="8"/></g>
<g id="r4c7-11"><rect class="n" x="996.3" y="534.2" width="8" height="8"/></g>
<g id="r4c7-12"><rect class="n" x="980" y="549.8" width="8" height="8"/></g>
</g>
<g id="answer-boxes">
<rect class="box" x="594.5" y="139.5" width="55" height="21.5"/>
<rect class="box" x="656" y="139.5" width="52" height="21.5"/>
<text class="lbl" x="650.5" y="153">,</text>
<rect class="box" x="594.5" y="282.5" width="55" height="21.5"/>
<rect class="box" x="656" y="282.5" width="52" height="21.5"/>
<text class="lbl" x="602" y="297.5">μ̄<tspan dy="2.5" font-size="8">1</tspan><tspan dy="-2.5" font-size="9"> =</tspan></text>
<text class="lbl" x="650.5" y="298">,</text>
<text class="lbl" x="661" y="297.5">μ̄<tspan dy="2.5" font-size="8">2</tspan><tspan dy="-2.5" font-size="9"> =</tspan></text>
<rect class="box" x="594.5" y="424.5" width="55" height="22"/>
<text class="lbl" x="602" y="440">μ̄<tspan dy="2.5" font-size="8">1</tspan><tspan dy="-2.5" font-size="9"> =</tspan></text>
<text class="lbl" x="650.5" y="440.5" fill="#777">, μ̄<tspan dy="2.5" font-size="8">2</tspan><tspan dy="-2.5" font-size="9"> =</tspan></text>
<rect class="box" x="914.5" y="424.5" width="52" height="22"/>
<path class="box" fill="none" d="M649.7,573 V567.5 H594.5 V589 H649.7 V584"/>
<rect class="box" x="914.5" y="567.5" width="52" height="21.5"/>
</g>
</svg>
